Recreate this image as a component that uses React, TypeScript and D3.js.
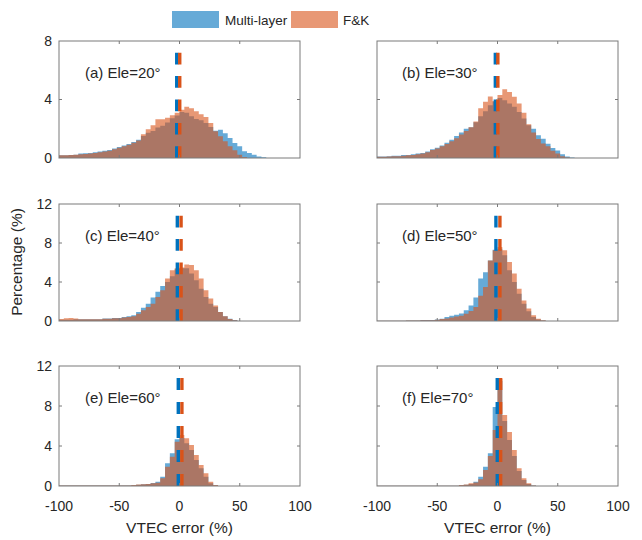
import React from 'react';
import * as d3 from 'd3';

// ---------- data ----------
const binLeftEdges = d3.range(-100, 100, 4); // 50 bins of width 4
const xTickValues = [-100, -50, 0, 50, 100];
const yTicksRow1 = [0, 4, 8];
const yTicksRow23 = [0, 4, 8, 12];
const panelLabels = ['(a) Ele=20°', '(b) Ele=30°', '(c) Ele=40°', '(d) Ele=50°', '(e) Ele=60°', '(f) Ele=70°'];
const seriesNames = ['Multi-layer', 'F&K'];

const ml20 = [0.18,0.18,0.2,0.22,0.3,0.32,0.35,0.4,0.45,0.5,0.55,0.65,0.75,0.85,0.95,1.1,1.25,1.5,1.73,1.85,2.08,2.2,2.42,2.72,2.9,3.15,3.1,2.85,2.67,2.58,2.4,2.12,1.87,1.94,1.7,1.37,1.03,0.8,0.46,0.34,0.23,0.11,0.05,0,0,0,0,0,0,0];
const fk20 = [0.18,0.18,0.2,0.22,0.25,0.28,0.3,0.35,0.4,0.45,0.5,0.6,0.7,0.8,0.9,1.05,1.2,1.62,1.96,2.24,2.65,2.65,2.76,2.92,3.1,3.3,3.5,3.4,3.2,3.0,2.8,2.4,1.83,1.48,1.14,0.8,0.53,0.23,0.07,0,0,0,0,0,0,0,0,0,0,0];
const ml30 = [0.1,0.1,0.12,0.15,0.15,0.2,0.2,0.25,0.3,0.35,0.45,0.6,0.7,0.85,1.05,1.25,1.5,1.75,2.0,2.1,2.45,2.85,3.2,3.6,3.85,4.1,3.95,3.72,3.5,3.15,2.7,2.24,2.0,1.55,1.32,0.98,0.68,0.52,0.25,0.1,0.04,0,0,0,0,0,0,0,0,0];
const fk30 = [0.08,0.08,0.1,0.12,0.12,0.15,0.18,0.2,0.25,0.3,0.4,0.55,0.65,0.8,0.95,1.15,1.35,1.6,1.85,2.1,2.5,3.4,3.85,4.2,3.9,4.3,4.7,4.52,4.18,3.72,3.1,2.3,1.75,1.3,1.0,0.8,0.5,0.3,0.12,0.04,0,0,0,0,0,0,0,0,0,0];
const ml40 = [0.14,0.14,0.14,0.17,0.17,0.17,0.17,0.17,0.17,0.25,0.25,0.3,0.3,0.4,0.48,0.6,0.92,1.37,1.78,2.4,3.0,3.6,4.0,4.6,5.3,5.4,5.4,4.86,4.18,3.3,2.47,1.78,1.44,0.92,0.48,0.24,0.1,0,0,0,0,0,0,0,0,0,0,0,0,0];
const fk40 = [0.2,0.28,0.3,0.25,0.18,0.18,0.18,0.18,0.18,0.22,0.22,0.28,0.28,0.35,0.4,0.5,0.75,1.1,1.44,1.78,2.47,3.15,4.35,5.2,5.4,5.5,5.8,5.75,5.2,4.35,3.15,2.3,1.6,0.92,0.48,0.2,0.08,0,0,0,0,0,0,0,0,0,0,0,0,0];
const ml50 = [0.03,0.03,0.03,0.03,0.03,0.03,0.06,0.06,0.06,0.1,0.1,0.1,0.15,0.24,0.4,0.55,0.65,0.78,1.1,1.6,2.4,4.35,5.0,6.2,7.3,7.4,6.75,5.2,4.0,2.8,1.78,1.0,0.4,0.15,0.05,0,0,0,0,0,0,0,0,0,0,0,0,0,0,0];
const fk50 = [0.02,0.02,0.02,0.02,0.02,0.02,0.05,0.05,0.05,0.08,0.08,0.08,0.12,0.2,0.25,0.35,0.45,0.55,0.75,1.03,1.44,2.6,3.5,6.2,7.26,7.6,7.26,6.06,4.86,3.3,2.1,1.27,0.58,0.24,0.08,0,0,0,0,0,0,0,0,0,0,0,0,0,0,0];
const ml60 = [0.04,0.04,0.04,0.04,0.04,0.04,0.04,0.04,0.04,0.04,0.04,0.04,0.04,0.04,0.04,0.08,0.12,0.17,0.2,0.3,0.43,0.93,2.27,3.27,4.67,4.8,4.27,3.6,2.6,1.77,0.93,0.27,0.08,0,0,0,0,0,0,0,0,0,0,0,0,0,0,0,0,0];
const fk60 = [0.04,0.04,0.04,0.04,0.04,0.04,0.04,0.04,0.04,0.04,0.04,0.04,0.04,0.04,0.04,0.1,0.15,0.17,0.2,0.27,0.33,0.77,1.93,2.93,4.43,5.1,4.77,4.1,3.1,2.1,1.27,0.43,0.1,0,0,0,0,0,0,0,0,0,0,0,0,0,0,0,0,0];
const ml70 = [0.03,0.03,0.03,0.03,0.03,0.03,0.03,0.03,0.03,0.03,0.03,0.03,0.03,0.03,0.03,0.03,0.03,0.08,0.12,0.2,0.43,0.93,1.93,3.27,7.9,10.5,6.5,4.6,3.0,1.5,0.6,0.2,0.05,0,0,0,0,0,0,0,0,0,0,0,0,0,0,0,0,0];
const fk70 = [0.03,0.03,0.03,0.03,0.03,0.03,0.03,0.03,0.03,0.03,0.03,0.03,0.03,0.03,0.03,0.03,0.03,0.1,0.15,0.27,0.35,0.67,1.6,3.0,5.6,10.7,7.1,5.4,3.6,1.77,0.77,0.27,0.05,0,0,0,0,0,0,0,0,0,0,0,0,0,0,0,0,0];

const meanML = [-2.3, -1.8, -1.8, -1.3, -1.0, -0.2];
const meanFK = [0.2, 0.3, 1.3, 2.0, 2.0, 2.6];

// ---------- layout / style ----------
const W = 642, H = 540;
const BLUE = 'rgb(0,114,189)';
const ORANGE = 'rgb(217,83,25)';
const ALPHA = 0.6;
const FONT = 'Liberation Sans, Arial, Helvetica, sans-serif';
const AX = '#7a7a7a';
const TXT = '#262626';

const cols = [{ x0: 59, x1: 300 }, { x0: 377, x1: 618 }];
const rows = [
  { t: 41, b: 158, ymax: 8, ticks: yTicksRow1 },
  { t: 204, b: 321, ymax: 12, ticks: yTicksRow23 },
  { t: 366, b: 486, ymax: 12, ticks: yTicksRow23 },
];
const mlSeries = [ml20, ml30, ml40, ml50, ml60, ml70];
const fkSeries = [fk20, fk30, fk40, fk50, fk60, fk70];

function Panel({ idx }: { idx: number }) {
  const r = rows[Math.floor(idx / 2)];
  const c = cols[idx % 2];
  const x = d3.scaleLinear().domain([-100, 100]).range([c.x0, c.x1]);
  const y = d3.scaleLinear().domain([0, r.ymax]).range([r.b, r.t]);
  const edges = [...binLeftEdges, 100];
  const mkArea = (vals: number[]) =>
    d3
      .area<number>()
      .x((_, i) => x(edges[i]))
      .y0(y(0))
      .y1((d) => y(d))
      .curve(d3.curveStepAfter)([...vals, vals[vals.length - 1]]) || '';
  const h = r.b - r.t;
  const dash = `${h / 10} ${h / 10}`;
  const tl = 3;
  const showX = Math.floor(idx / 2) === 2;
  const showY = idx % 2 === 0;
  return (
    <g>
      <path d={mkArea(mlSeries[idx])} fill={BLUE} fillOpacity={ALPHA} />
      <path d={mkArea(fkSeries[idx])} fill={ORANGE} fillOpacity={ALPHA} />
      <line x1={x(meanML[idx])} x2={x(meanML[idx])} y1={y(0)} y2={y(r.ymax)} stroke={BLUE} strokeWidth={3.4} strokeDasharray={dash} />
      <line x1={x(meanFK[idx])} x2={x(meanFK[idx])} y1={y(0)} y2={y(r.ymax)} stroke={ORANGE} strokeWidth={3.4} strokeDasharray={dash} />
      <rect x={c.x0} y={r.t} width={c.x1 - c.x0} height={h} fill="none" stroke={AX} strokeWidth={1} />
      {xTickValues.slice(1, -1).map((t) => (
        <g key={'xt' + t}>
          <line x1={x(t)} x2={x(t)} y1={r.b} y2={r.b - tl} stroke={AX} />
          <line x1={x(t)} x2={x(t)} y1={r.t} y2={r.t + tl} stroke={AX} />
        </g>
      ))}
      {r.ticks.slice(1, -1).map((t) => (
        <g key={'yt' + t}>
          <line x1={c.x0} x2={c.x0 + tl} y1={y(t)} y2={y(t)} stroke={AX} />
          <line x1={c.x1} x2={c.x1 - tl} y1={y(t)} y2={y(t)} stroke={AX} />
        </g>
      ))}
      {showY &&
        r.ticks.map((t) => (
          <text key={'yl' + t} x={c.x0 - 7} y={y(t)} dy="0.35em" textAnchor="end" fontSize={14} fill={TXT} fontFamily={FONT}>
            {t}
          </text>
        ))}
      {showX &&
        xTickValues.map((t) => (
          <text key={'xl' + t} x={x(t)} y={r.b + 25} textAnchor="middle" fontSize={14} fill={TXT} fontFamily={FONT}>
            {t < 0 ? '-' + Math.abs(t) : t}
          </text>
        ))}
      {showX && (
        <text x={x(0)} y={r.b + 47} textAnchor="middle" fontSize={15.5} fill={TXT} fontFamily={FONT}>
          VTEC error (%)
        </text>
      )}
      <text x={c.x0 + (idx % 2 === 0 ? 26 : 25)} y={r.t + 37} fontSize={15} fill={TXT} fontFamily={FONT}>
        {panelLabels[idx]}
      </text>
    </g>
  );
}

export default function App() {
  return (
    <svg width={W} height={H} style={{ position: 'absolute', left: 0, top: 0, background: '#fff' }}>
      <rect width={W} height={H} fill="#fff" />
      {d3.range(6).map((i) => (
        <Panel key={i} idx={i} />
      ))}
      <text transform={`translate(22,262) rotate(-90)`} textAnchor="middle" fontSize={15.5} fill={TXT} fontFamily={FONT}>
        Percentage (%)
      </text>
      <g fontFamily={FONT} fontSize={13.5} fill={TXT}>
        <rect x={172} y={11} width={47} height={17} fill={BLUE} fillOpacity={ALPHA} />
        <text x={225} y={25}>{seriesNames[0]}</text>
        <rect x={291} y={11} width={47} height={17} fill={ORANGE} fillOpacity={ALPHA} />
        <text x={343} y={25}>{seriesNames[1]}</text>
      </g>
    </svg>
  );
}
